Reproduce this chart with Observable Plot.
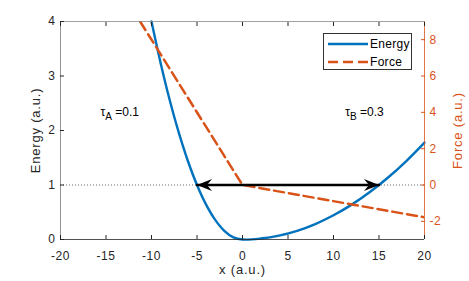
<!DOCTYPE html>
<html>
<head>
<meta charset="utf-8">
<script src="https://cdn.jsdelivr.net/npm/d3@7"></script>
<script src="https://cdn.jsdelivr.net/npm/@observablehq/plot@0.6"></script>
<style>
  body { margin: 0; background: #fff; }
  #wrap { position: relative; width: 469px; height: 281px; font-family: "Liberation Sans", Arial, sans-serif; }
  #legend { position: absolute; background: #fff; border: 1px solid #333; font-size: 12px; letter-spacing: 0.3px; color: #000; box-sizing: border-box; }
  #legend .row { position: absolute; left: 0; display: flex; align-items: center; }
</style>
</head>
<body>
<div id="wrap"></div>
<script>
// ---- data ----
const xTicks = [-20, -15, -10, -5, 0, 5, 10, 15, 20];
const energyTicks = [0, 1, 2, 3, 4];
const forceTicks = [-2, 0, 2, 4, 6, 8];
const energyDomain = [0, 4];
const forceDomain = [-3, 9];

const energyX = [-10, -9, -8, -7, -6, -5, -4, -3, -2, -1, 0, 2, 4, 6, 8, 10, 12, 14, 16, 18, 20];
const energyY = [4.0, 3.24, 2.56, 1.96, 1.44, 1.0, 0.64, 0.36, 0.16, 0.04, 0.0, 0.018, 0.071, 0.16, 0.284, 0.444, 0.64, 0.871, 1.138, 1.44, 1.778];

const forceX = [-11.25, 0, 20];
const forceY = [9.0, 0.0, -1.78];

const arrowX = [-5, 15];
const arrowLevel = 1;
const arrowRotate = [180, 0];

const tauNames = ["A", "B"];
const tauValues = ["0.1", "0.3"];
const tauX = [-15.6, 11.3];
const tauY = [2.33, 2.33];

const legendNames = ["Energy", "Force"];

// ---- helpers ----
const energyColor = "#0072BD";
const forceColor = "#D95319";
const axisColor = "#262626";
const toE = f => (f - forceDomain[0]) / (forceDomain[1] - forceDomain[0]) * (energyDomain[1] - energyDomain[0]) + energyDomain[0];
const toF = e => (e - energyDomain[0]) / (energyDomain[1] - energyDomain[0]) * (forceDomain[1] - forceDomain[0]) + forceDomain[0];
const fmt = v => String(Math.round(v));

const energyData = energyX.map((x, i) => ({x, y: energyY[i]}));
const forceData = forceX.map((x, i) => ({x, y: toE(forceY[i])}));
const arrowData = arrowX.map((x, i) => ({x, y: arrowLevel, r: arrowRotate[i]}));
const tauData = tauNames.map((n, i) => ({n, v: tauValues[i], x: tauX[i], y: tauY[i]}));

const arrowHead = {
  draw(ctx, size) {
    ctx.moveTo(0, 0);
    ctx.lineTo(-15, -6);
    ctx.lineTo(-10, 0);
    ctx.lineTo(-15, 6);
    ctx.closePath();
  }
};

const plot = Plot.plot({
  width: 469,
  height: 281,
  marginLeft: 60,
  marginRight: 45,
  marginTop: 21,
  marginBottom: 42,
  style: {fontFamily: "Liberation Sans, Arial, sans-serif", fontSize: "12px", color: axisColor, background: "white"},
  x: {domain: [-20, 20]},
  y: {domain: energyDomain},
  marks: [
    Plot.ruleY([arrowLevel], {stroke: "#444", strokeWidth: 0.8, strokeDasharray: "1,2"}),
    Plot.line(energyData, {x: "x", y: "y", stroke: energyColor, strokeWidth: 2.4, curve: "catmull-rom"}),
    Plot.line(forceData, {x: "x", y: "y", stroke: forceColor, strokeWidth: 2.5, strokeDasharray: "10,5", clip: true}),
    Plot.line(arrowData, {x: "x", y: "y", stroke: "black", strokeWidth: 2.5}),
    Plot.dot(arrowData, {x: "x", y: "y", rotate: "r", symbol: arrowHead, fill: "black", stroke: "none"}),
    Plot.text(tauData, {x: "x", y: "y", text: d => "τ" + d.n + " =" + d.v, textAnchor: "start", fontSize: 12, fill: "#000"}),
    Plot.ruleY([energyDomain[0]], {stroke: axisColor, strokeWidth: 0.8}),
    Plot.ruleY([energyDomain[1]], {stroke: "#888", strokeWidth: 0.8}),
    Plot.ruleX([-20], {stroke: "#777", strokeWidth: 0.8}),
    Plot.ruleX([20], {stroke: forceColor, strokeWidth: 0.8}),
    Plot.axisX({ticks: xTicks, tickFormat: fmt, tickSize: -4, tickPadding: 16, label: "x (a.u.)", labelAnchor: "center", labelArrow: "none", labelOffset: 34, fontSize: 12, color: axisColor}),
    Plot.axisX({anchor: "top", ticks: xTicks, tickSize: -4, tickFormat: () => "", label: null, color: axisColor}),
    Plot.axisY({anchor: "left", ticks: energyTicks, tickFormat: fmt, tickSize: -4, tickPadding: 9, label: "Energy (a.u.)", labelAnchor: "center", labelArrow: "none", labelOffset: 30, fontSize: 12, color: axisColor}),
    Plot.axisY({anchor: "right", ticks: forceTicks.map(toE), tickFormat: e => fmt(toF(e)), tickSize: -4, tickPadding: 9, label: "Force (a.u.)", labelAnchor: "center", labelArrow: "none", labelOffset: 37, fontSize: 12, color: forceColor})
  ]
});

const root = d3.select(plot);
// subscripts for tau labels
root.selectAll('g[aria-label="text"] text').each(function(d, i) {
  const t = d3.select(this);
  const item = tauData[i];
  if (!item) return;
  t.text(null);
  t.append("tspan").text("τ");
  t.append("tspan").attr("dy", "0.35em").attr("font-size", "10px").text(item.n);
  t.append("tspan").attr("dy", "-0.35em").text(" =" + item.v);
});
// axis label and tick label typography
root.selectAll('g[aria-label="x-axis label"] text, g[aria-label="y-axis label"] text')
  .attr("font-size", 13).style("letter-spacing", "0.8px");
root.selectAll('g[aria-label="x-axis tick label"] text, g[aria-label="y-axis tick label"] text')
  .style("letter-spacing", "0.5px");

const wrap = document.getElementById("wrap");
wrap.appendChild(plot);

// legend
const legend = document.createElement("div");
legend.id = "legend";
legend.style.left = "323px";
legend.style.top = "33px";
legend.style.width = "89px";
legend.style.height = "37px";
const colors = [energyColor, forceColor];
const dashes = [null, "10,5"];
legendNames.forEach((name, i) => {
  const row = document.createElement("div");
  row.className = "row";
  row.style.top = (3 + i * 18) + "px";
  row.style.height = "14px";
  const svg = d3.create("svg").attr("width", 45).attr("height", 14);
  svg.append("line").attr("x1", 4).attr("x2", 44).attr("y1", 7).attr("y2", 7)
    .attr("stroke", colors[i]).attr("stroke-width", 2.4).attr("stroke-dasharray", dashes[i]);
  row.appendChild(svg.node());
  const span = document.createElement("span");
  span.textContent = name;
  span.style.marginLeft = "1px";
  row.appendChild(span);
  legend.appendChild(row);
});
wrap.appendChild(legend);
</script>
</body>
</html>
